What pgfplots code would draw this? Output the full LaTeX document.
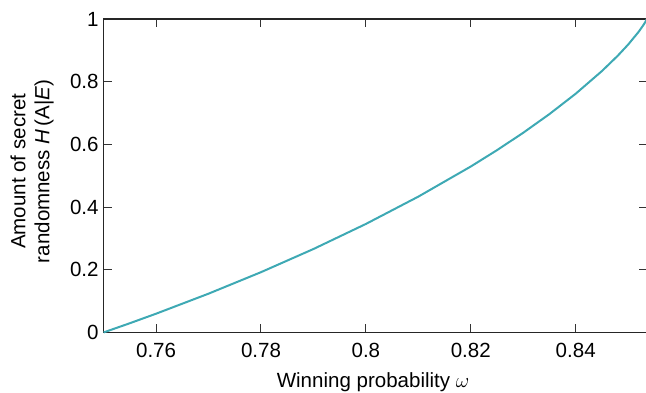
\documentclass[border=0pt]{standalone}
\usepackage{fontspec}
\setmainfont{Liberation Sans}
\usepackage{pgfplots}
\pgfplotsset{compat=1.18}
\definecolor{curve}{RGB}{62,169,180}
\newcommand{\bigfont}{\fontsize{20.5}{24}\selectfont}
\begin{document}
\begin{tikzpicture}
\begin{axis}[
  name=ax,
  scale only axis,
  width=542.5pt, height=313pt,
  xmin=0.75, xmax=0.853553,
  ymin=0, ymax=1,
  xtick={0.76,0.78,0.8,0.82,0.84},
  ytick={0,0.2,0.4,0.6,0.8,1},
  xticklabels={0.76,0.78,0.8,0.82,0.84},
  yticklabels={0,0.2,0.4,0.6,0.8,1},
  /pgf/number format/assume math mode=true,
  tick align=inside,
  major tick length=8pt,
  axis line style={line width=1.2pt, black!85},
  every tick/.style={line width=1pt, black!80},
  tick label style={font=\bigfont},
  xticklabel style={anchor=base, yshift=-25pt},
  yticklabel style={xshift=-1.5pt},
  label style={font=\bigfont},
  xlabel={Winning probability $\omega$},
  ylabel={Amount of secret\\randomness \textit{H}\,(A|\textit{E})},
  xlabel style={at={(axis description cs:0.496,-0.1757)}, anchor=base},
  ylabel style={align=center, at={(axis description cs:-0.1318,0.514)}, anchor=center},
  clip=false,
]
\addplot[curve, line width=2pt] coordinates {
(0.75,0) (0.7505,0.0029) (0.755,0.0293) (0.76,0.0597) (0.77,0.1236)
(0.78,0.1922) (0.79,0.2661) (0.80,0.3461) (0.81,0.4333) (0.82,0.5294)
(0.825,0.5816) (0.83,0.6371) (0.835,0.6968) (0.84,0.7617) (0.845,0.8340)
(0.848,0.8826) (0.85,0.9185) (0.852,0.9592) (0.853,0.9831) (0.8533,0.9915)
(0.8535,0.9979) (0.853553,1)
};
\end{axis}
\pgfresetboundingbox
\path[use as bounding box] ([xshift=-103.5pt,yshift=-60pt]ax.south west) rectangle ([xshift=-0.8pt,yshift=19pt]ax.north east);
\end{tikzpicture}
\end{document}
